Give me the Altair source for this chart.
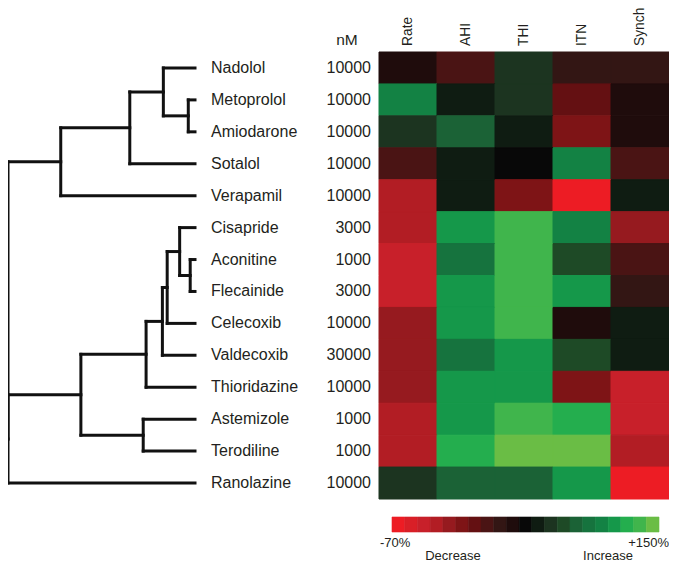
import altair as alt
import pandas as pd

# ---------------- data ----------------
drugs = ["Nadolol", "Metoprolol", "Amiodarone", "Sotalol", "Verapamil",
         "Cisapride", "Aconitine", "Flecainide", "Celecoxib", "Valdecoxib",
         "Thioridazine", "Astemizole", "Terodiline", "Ranolazine"]
conc_nM = ["10000", "10000", "10000", "10000", "10000",
           "3000", "1000", "3000", "10000", "30000",
           "10000", "1000", "1000", "10000"]
measures = ["Rate", "AHI", "THI", "ITN", "Synch"]

# percent change (estimated from colour bins)
rate  = [-4, 82, 22, -18, -46, -46, -53, -53, -39, -39, -39, -46, -46, 22]
ahi   = [-18, 8, 52, 8, 8, 97, 67, 97, 97, 67, 97, 97, 112, 52]
thi   = [22, 22, 8, 0, -32, 127, 127, 127, 127, 97, 97, 127, 142, 52]
itn   = [-11, -25, -32, 82, -67, 82, 37, 97, -4, 37, -32, 112, 142, 97]
synch = [-11, -4, -4, -18, 8, -39, -18, -11, 8, 8, -53, -53, -46, -67]

# dendrogram: (child a, child b, linkage height); children are leaf names or node ids
merges = [
    ("Metoprolol", "Amiodarone", 0.07),   # n0
    ("Nadolol", "n0", 0.33),              # n1
    ("n1", "Sotalol", 0.68),              # n2
    ("n2", "Verapamil", 1.40),            # n3
    ("Aconitine", "Flecainide", 0.05),    # n4
    ("Cisapride", "n4", 0.16),            # n5
    ("n5", "Celecoxib", 0.29),            # n6
    ("n6", "Valdecoxib", 0.34),           # n7
    ("n7", "Thioridazine", 0.51),         # n8
    ("Astemizole", "Terodiline", 0.54),   # n9
    ("n8", "n9", 1.19),                   # n10
    ("n10", "Ranolazine", 1.95),          # n11
    ("n3", "n11", 1.95),                  # n12 root
]

thresholds = [-63, -56, -49, -42, -35, -28, -21, -14, -7, -1, 1,
              15, 30, 45, 60, 75, 90, 105, 120, 135]
palette = ["#ED1C24", "#D91F27", "#C8202A", "#B21D24", "#961A1F", "#7E1416",
           "#641012", "#4A1414", "#331614", "#1F0C0C", "#080808",
           "#0F1C12", "#1C3420", "#1E4A26", "#1B6236", "#16733E", "#138244",
           "#15984A", "#24AE4E", "#40B54C", "#6ABD45"]
legend_values = [-67, -60, -53, -46, -39, -32, -25, -18, -11, -4, 0,
                 8, 22, 37, 52, 67, 82, 97, 112, 127, 142]
legend_ends = ["-70%", "+150%"]
legend_words = ["Decrease", "Increase"]
conc_header = ["nM"]

# ---------------- tables ----------------
series = {"Rate": rate, "AHI": ahi, "THI": thi, "ITN": itn, "Synch": synch}
heat_rows = []
for i, d in enumerate(drugs):
    for j, m in enumerate(measures):
        heat_rows.append({"drug": d, "measure": m, "r0": i, "r1": i + 1,
                          "c0": j, "c1": j + 1, "value": series[m][i]})
heat_df = pd.DataFrame(heat_rows)

label_df = pd.DataFrame({"drug": drugs, "nM": conc_nM,
                         "pos": [i + 0.5 for i in range(len(drugs))]})
head_df = pd.DataFrame({"measure": measures,
                        "c": [j + 0.5 for j in range(len(measures))]})

# dendrogram segments
pos = {d: i + 0.5 for i, d in enumerate(drugs)}
hgt = {d: 0.0 for d in drugs}
segs = []
for k, (a, b, h) in enumerate(merges):
    pa, pb = pos[a], pos[b]
    segs.append({"h1": hgt[a], "h2": h, "p1": pa, "p2": pa})
    segs.append({"h1": hgt[b], "h2": h, "p1": pb, "p2": pb})
    segs.append({"h1": h, "h2": h, "p1": pa, "p2": pb})
    nid = f"n{k}"
    pos[nid] = (pa + pb) / 2
    hgt[nid] = h
seg_df = pd.DataFrame(segs)

bar_df = pd.DataFrame({"i": list(range(len(legend_values))),
                       "i2": [i + 1 for i in range(len(legend_values))],
                       "value": legend_values})

# ---------------- chart ----------------
FONT = "Liberation Sans"
TXT = "#231F20"
row_scale = alt.Scale(domain=[0, 14], range=[44, 491], nice=False, zero=False)
col_scale = alt.Scale(domain=[0, 5], range=[371, 661], nice=False, zero=False)
cscale = alt.Scale(type="threshold", domain=thresholds, range=palette)
color = alt.Color("value:Q", legend=None, scale=cscale)
stroke = alt.Stroke("value:Q", legend=None, scale=cscale)

dendro = alt.Chart(seg_df).mark_rule(strokeWidth=3, color="#111111", strokeCap="square").encode(
    x=alt.X("h1:Q", axis=None, scale=alt.Scale(domain=[0, 1.95], range=[187, 0], nice=False, zero=False)),
    x2="h2:Q",
    y=alt.Y("p1:Q", axis=None, scale=row_scale),
    y2="p2:Q",
)

names = alt.Chart(label_df).mark_text(align="left", baseline="middle", font=FONT,
                                      fontSize=16, color=TXT).encode(
    x=alt.value(203),
    y=alt.Y("pos:Q", axis=None, scale=row_scale),
    text="drug:N",
)
concs = alt.Chart(label_df).mark_text(align="right", baseline="middle", font=FONT,
                                      fontSize=16, color=TXT).encode(
    x=alt.value(363),
    y=alt.Y("pos:Q", axis=None, scale=row_scale),
    text="nM:N",
)
nm_head = alt.Chart(pd.DataFrame({"t": conc_header})).mark_text(
    align="center", baseline="middle", font=FONT, fontSize=15.5, color=TXT).encode(
    x=alt.value(339), y=alt.value(32), text="t:N")

heat = alt.Chart(heat_df).mark_rect(strokeWidth=1).encode(
    x=alt.X("c0:Q", axis=None, scale=col_scale),
    x2="c1:Q",
    y=alt.Y("r0:Q", axis=None, scale=row_scale),
    y2="r1:Q",
    color=color,
    stroke=stroke,
)

heads = alt.Chart(head_df).mark_text(angle=270, align="left", baseline="middle",
                                     font=FONT, fontSize=13.8, color=TXT).encode(
    x=alt.X("c:Q", axis=None, scale=col_scale),
    y=alt.value(38),
    text="measure:N",
)

bar = alt.Chart(bar_df).mark_rect(strokeWidth=0.6).encode(
    x=alt.X("i:Q", axis=None, scale=alt.Scale(domain=[0, 21], range=[384, 651], nice=False, zero=False)),
    x2="i2:Q",
    y=alt.value(509),
    y2=alt.value(524),
    color=color,
    stroke=stroke,
)

end_l = alt.Chart(pd.DataFrame({"t": [legend_ends[0]]})).mark_text(
    align="left", baseline="alphabetic", font=FONT, fontSize=13, color=TXT).encode(
    x=alt.value(372), y=alt.value(539), text="t:N")
end_r = alt.Chart(pd.DataFrame({"t": [legend_ends[1]]})).mark_text(
    align="right", baseline="alphabetic", font=FONT, fontSize=13, color=TXT).encode(
    x=alt.value(661), y=alt.value(539), text="t:N")
word_df = pd.DataFrame({"t": legend_words, "k": [0, 1]})
words = alt.Chart(word_df).mark_text(
    align="center", baseline="alphabetic", font=FONT, fontSize=13, color=TXT).encode(
    x=alt.X("k:Q", axis=None, scale=alt.Scale(domain=[0, 1], range=[445, 600], nice=False, zero=False)),
    y=alt.value(552), text="t:N")

chart = alt.layer(dendro, names, concs, nm_head, heat, heads, bar, end_l, end_r, words).resolve_scale(
    x="independent", y="independent", color="shared"
).properties(
    width=661, height=557, autosize=alt.AutoSizeParams(type="none"), padding=0,
    background="white"
).configure_view(stroke=None)

chart.save("out.html", embed_options={"renderer": "svg", "actions": False})
